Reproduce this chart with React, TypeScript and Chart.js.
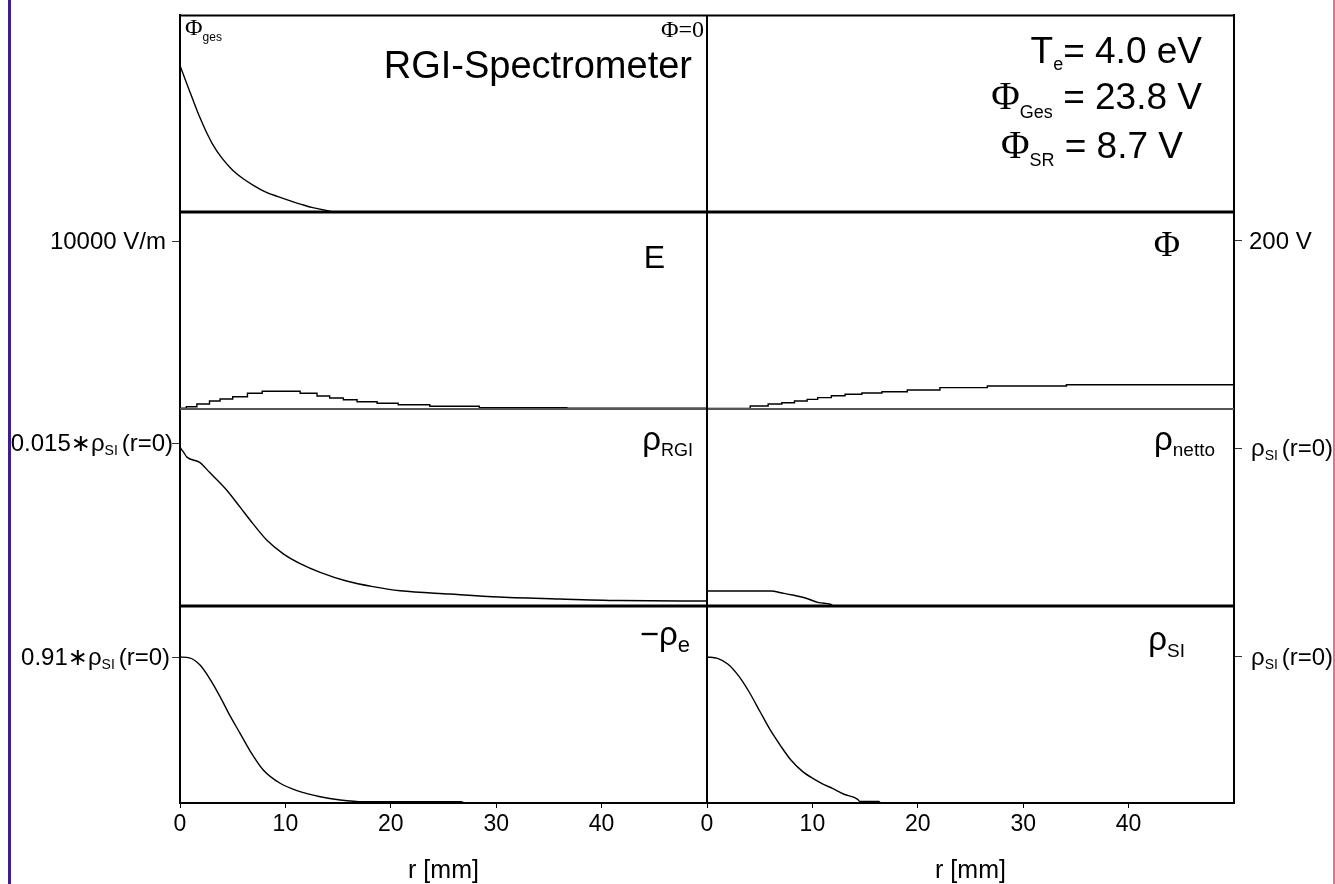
import React, { useEffect, useRef } from 'react';
import { Chart, registerables } from 'chart.js';

Chart.register(...registerables);

const SANS = '"Liberation Sans", Arial, "DejaVu Sans", sans-serif';
const SERIF = '"Liberation Serif", "Times New Roman", "DejaVu Serif", serif';

// ---------- x axis (r in mm) ----------
const xTickValues = [0, 10, 20, 30, 40];

// ---------- Row 1 left: total potential Φges (V) ----------
const rPhiGes = [0, 0.3, 0.7, 1.1, 1.9, 2.5, 3.1, 4.0, 5.0, 6.0, 7.0, 8.2, 9.3, 10.4, 11.5, 12.6, 14.2, 14.5];
const phiGes = [23.8, 22.4, 20.6, 18.8, 15.3, 13.0, 11.0, 8.7, 6.8, 5.4, 4.3, 3.2, 2.5, 1.85, 1.25, 0.7, 0.15, 0];

// ---------- Row 2 left: electric field E (V/m) ----------
const rE = [0, 0.6, 1.6, 2.8, 3.8, 5.0, 6.4, 7.8, 11.4, 13.0, 14.2, 15.5, 16.8, 18.7, 20.7, 23.7, 28.4, 36.7, 50];
const eField = [42, 137, 298, 476, 595, 732, 934, 1053, 934, 774, 655, 553, 434, 339, 256, 161, 77, 42, 42];

// ---------- Row 2 right: potential Φ (V) ----------
const rPhi = [0, 4.1, 5.8, 7.1, 8.3, 9.5, 10.5, 11.8, 13.1, 14.7, 16.6, 19.0, 22.1, 26.6, 34.1, 50];
const phi = [0.8, 3.6, 6.0, 7.5, 9.5, 11.5, 13.5, 15.8, 17.5, 19.0, 20.6, 22.6, 25.4, 27.4, 28.9, 28.9];

// ---------- Row 3 left: ρRGI / ρSI(r=0) ----------
const rRgi = [0, 0.3, 0.66, 1.9, 2.8, 4.4, 5.7, 6.9, 8.2, 9.8, 11.4, 13.3, 15.8, 18.3, 20.9, 25.6, 30.3, 36, 41.7, 50];
const rhoRgi = [0.0146, 0.0142, 0.0137, 0.0132, 0.0123, 0.0107, 0.0091, 0.0076, 0.0061, 0.0048, 0.0039, 0.0031, 0.0023, 0.00178, 0.0014, 0.0011, 0.00083, 0.00064, 0.0005, 0.00046];

// ---------- Row 3 right: ρnetto / ρSI(r=0) ----------
const rNetto = [0, 6.1, 7.0, 8.1, 9.4, 10.6, 11.7, 12.0, 50];
const rhoNetto = [0.095, 0.095, 0.084, 0.07, 0.049, 0.021, 0.011, 0, 0];

// ---------- Row 4 left: −ρe / ρSI(r=0) ----------
const rRhoE = [0, 0.9, 1.9, 2.8, 3.8, 4.7, 5.7, 6.6, 7.9, 9.5, 11.1, 13.3, 15.2, 17.4, 26.7, 27.0, 50];
const rhoE = [0.91, 0.905, 0.86, 0.777, 0.663, 0.549, 0.434, 0.33, 0.206, 0.123, 0.077, 0.039, 0.019, 0.008, 0.008, 0, 0];

// ---------- Row 4 right: ρSI / ρSI(r=0) ----------
const rRhoSi = [0, 1.0, 2.0, 3.0, 4.0, 5.0, 6.0, 7.0, 7.9, 9.0, 10.0, 11.0, 11.9, 13.0, 14.3, 14.5, 16.3, 16.5, 50];
const rhoSi = [1.0, 0.99, 0.95, 0.87, 0.76, 0.63, 0.5, 0.39, 0.3, 0.22, 0.17, 0.13, 0.1, 0.06, 0.025, 0.01, 0.01, 0, 0];

// ---------- axis ranges and single ticks ----------
const yMaxPhiGes = 32;
const yMaxE = 11730;
const yMaxPhi = 234.5;
const yMaxRgi = 0.01813;
const yMaxNetto = 1.247;
const yMaxRhoE = 1.228;
const yMaxRhoSi = 1.349;
const tickE = [10000];
const tickPhi = [200];
const tickRgi = [0.015];
const tickNetto = [1];
const tickRhoE = [0.91];
const tickRhoSi = [1];

type Seg = { t: string; f: string; dy?: number };

function drawRich(ctx: CanvasRenderingContext2D, segs: Seg[], x: number, y: number, align: 'left' | 'right') {
  let w = 0;
  for (const s of segs) {
    ctx.font = s.f;
    w += ctx.measureText(s.t).width;
  }
  let cx = align === 'right' ? x - w : x;
  ctx.textAlign = 'left';
  ctx.textBaseline = 'alphabetic';
  ctx.fillStyle = '#000';
  for (const s of segs) {
    ctx.font = s.f;
    ctx.fillText(s.t, cx, y + (s.dy || 0));
    cx += ctx.measureText(s.t).width;
  }
}

const sans = (px: number) => `${px}px ${SANS}`;
const serif = (px: number) => `${px}px ${SERIF}`;

export default function App() {
  const ref = useRef<HTMLCanvasElement>(null);

  useEffect(() => {
    document.body.style.margin = '0';
    document.body.style.overflow = 'hidden';
    const canvas = ref.current!;
    const pts = (xs: number[], ys: number[]) => xs.map((x, i) => ({ x, y: ys[i] }));
    const line = (data: any[], xAxisID: string, yAxisID: string, stepped: any = false) => ({
      type: 'line',
      data,
      xAxisID,
      yAxisID,
      borderColor: '#000',
      borderWidth: 1.4,
      pointRadius: 0,
      fill: false,
      tension: 0,
      cubicInterpolationMode: stepped ? 'default' : 'monotone',
      stepped,
    });
    const setTicks = (vals: number[]) => (scale: any) => {
      scale.ticks = vals.map((v) => ({ value: v }));
    };
    const yAxis = (position: 'left' | 'right', weight: number, max: number, tickVals: number[]) => ({
      type: 'linear',
      position,
      stack: position,
      stackWeight: 1,
      weight,
      min: 0,
      max,
      afterBuildTicks: setTicks(tickVals),
      afterFit: (s: any) => {
        s.width = position === 'left' ? 180 : 101;
        s.paddingTop = 0;
        s.paddingBottom = 0;
      },
      ticks: { display: false },
      grid: { drawOnChartArea: false, drawTicks: true, tickLength: 8, color: '#333', lineWidth: 1 },
      border: { display: true, color: '#000', width: 2 },
    });
    const xAxis = (weight: number) => ({
      type: 'linear',
      position: 'bottom',
      stack: 'rows',
      stackWeight: 1,
      weight,
      min: 0,
      max: 50,
      afterBuildTicks: setTicks(xTickValues),
      afterFit: (s: any) => {
        s.height = 81;
        s.paddingLeft = 0;
        s.paddingRight = 0;
      },
      ticks: {
        display: true,
        color: '#000',
        font: { family: SANS, size: 23 },
        padding: 3,
        autoSkip: false,
        maxRotation: 0,
        callback: (v: any) => String(v),
      },
      grid: { drawOnChartArea: false, drawTicks: true, tickLength: 5, color: '#000', lineWidth: 1 },
      border: { display: true, color: '#000', width: 2 },
      title: { display: true, text: 'r [mm]', color: '#000', font: { family: SANS, size: 25 }, padding: { top: 0, bottom: -2 } },
    });

    const decor = {
      id: 'decor',
      beforeDraw(chart: any) {
        const ctx = chart.ctx;
        ctx.save();
        ctx.fillStyle = '#fff';
        ctx.fillRect(0, 0, chart.width, chart.height);
        ctx.restore();
      },
      afterDraw(chart: any) {
        const ctx: CanvasRenderingContext2D = chart.ctx;
        const s = chart.scales;
        const ca = chart.chartArea;
        const L = s.xL;
        const R = s.xR;
        ctx.save();
        const hline = (y: number, w: number, c: string) => {
          ctx.beginPath();
          ctx.lineWidth = w;
          ctx.strokeStyle = c;
          ctx.moveTo(ca.left, y);
          ctx.lineTo(ca.right, y);
          ctx.stroke();
        };
        hline(ca.top + 0.5, 2, '#000');
        hline(s.yL1.bottom, 3, '#000');
        hline(s.yL2.bottom, 2, '#555');
        hline(s.yL3.bottom, 3, '#000');
        ctx.beginPath();
        ctx.lineWidth = 2;
        ctx.strokeStyle = '#000';
        ctx.moveTo(R.left, ca.top);
        ctx.lineTo(R.left, ca.bottom);
        ctx.stroke();

        // row 1 texts
        const t1 = s.yL1.top;
        drawRich(ctx, [{ t: 'Φ', f: serif(24) }, { t: 'ges', f: sans(12), dy: 6 }], L.left + 5, t1 + 20, 'left');
        drawRich(ctx, [{ t: 'Φ=0', f: serif(24) }], L.right - 3, t1 + 22, 'right');
        drawRich(ctx, [{ t: 'RGI-Spectrometer', f: sans(38) }], L.right - 15, t1 + 63, 'right');
        drawRich(ctx, [{ t: 'T', f: sans(37) }, { t: 'e', f: sans(18), dy: 7 }, { t: '= 4.0 eV', f: sans(37) }], R.right - 32, t1 + 48, 'right');
        drawRich(ctx, [{ t: 'Φ', f: serif(39) }, { t: 'Ges', f: sans(18), dy: 9 }, { t: ' = 23.8 V', f: sans(37) }], R.right - 32, t1 + 94, 'right');
        drawRich(ctx, [{ t: 'Φ', f: serif(39) }, { t: 'SR', f: sans(18), dy: 8 }, { t: ' = 8.7 V', f: sans(37) }], R.right - 51, t1 + 143, 'right');

        // row 2
        const t2 = s.yL2.top;
        drawRich(ctx, [{ t: 'E', f: sans(32) }], L.right - 42, t2 + 56, 'right');
        drawRich(ctx, [{ t: 'Φ', f: serif(36) }], R.right - 54, t2 + 44, 'right');
        // row 3
        const t3 = s.yL3.top;
        drawRich(ctx, [{ t: 'ρ', f: sans(33) }, { t: 'RGI', f: sans(18), dy: 6 }], L.right - 14, t3 + 41, 'right');
        drawRich(ctx, [{ t: 'ρ', f: sans(33) }, { t: 'netto', f: sans(19), dy: 6 }], R.right - 19, t3 + 41, 'right');
        // row 4
        const t4 = s.yL4.top;
        drawRich(ctx, [{ t: '−', f: sans(33) }, { t: 'ρ', f: sans(33) }, { t: 'e', f: sans(22), dy: 7 }], L.right - 17, t4 + 39, 'right');
        drawRich(ctx, [{ t: 'ρ', f: sans(33) }, { t: 'SI', f: sans(19), dy: 7 }], R.right - 49, t4 + 44, 'right');

        // axis tick labels
        const yE = s.yL2.getPixelForValue(tickE[0]);
        drawRich(ctx, [{ t: '10000 V/m', f: sans(24) }], 166, yE + 8, 'right');
        const yRgi = s.yL3.getPixelForValue(tickRgi[0]);
        drawRich(ctx, [{ t: '0.015∗ρ', f: sans(24) }, { t: 'SI ', f: sans(14), dy: 4 }, { t: '(r=0)', f: sans(24) }], 173, yRgi + 8, 'right');
        const yRe = s.yL4.getPixelForValue(tickRhoE[0]);
        drawRich(ctx, [{ t: '0.91∗ρ', f: sans(24) }, { t: 'SI ', f: sans(14), dy: 4 }, { t: '(r=0)', f: sans(24) }], 170, yRe + 8, 'right');
        const yPhi = s.yR2.getPixelForValue(tickPhi[0]);
        drawRich(ctx, [{ t: '200 V', f: sans(24) }], R.right + 15, yPhi + 8, 'left');
        const yN = s.yR3.getPixelForValue(tickNetto[0]);
        drawRich(ctx, [{ t: 'ρ', f: sans(24) }, { t: 'SI ', f: sans(14), dy: 4 }, { t: '(r=0)', f: sans(24) }], R.right + 17, yN + 8, 'left');
        const yS = s.yR4.getPixelForValue(tickRhoSi[0]);
        drawRich(ctx, [{ t: 'ρ', f: sans(24) }, { t: 'SI ', f: sans(14), dy: 4 }, { t: '(r=0)', f: sans(24) }], R.right + 17, yS + 8, 'left');

        // page edge decorations
        ctx.fillStyle = '#3c1e8c';
        ctx.fillRect(8, 0, 3, chart.height);
        ctx.fillStyle = '#ef6a8c';
        ctx.fillRect(1333, 0, 2, chart.height);
        ctx.restore();
      },
    };

    const chart = new Chart(canvas, {
      type: 'line',
      data: {
        datasets: [
          line(pts(rPhiGes, phiGes), 'xL', 'yL1'),
          line(pts(rE, eField), 'xL', 'yL2', 'before'),
          line(pts(rPhi, phi), 'xR', 'yR2', 'before'),
          line(pts(rRgi, rhoRgi), 'xL', 'yL3'),
          line(pts(rNetto, rhoNetto), 'xR', 'yR3'),
          line(pts(rRhoE, rhoE), 'xL', 'yL4'),
          line(pts(rRhoSi, rhoSi), 'xR', 'yR4'),
        ] as any,
      },
      options: {
        responsive: false,
        animation: false,
        events: [],
        layout: { padding: { top: 15, left: 0, right: 0, bottom: 0 } },
        plugins: { legend: { display: false }, tooltip: { enabled: false }, title: { display: false } },
        scales: {
          xL: xAxis(1),
          xR: xAxis(2),
          yL1: yAxis('left', 4, yMaxPhiGes, []),
          yL2: yAxis('left', 3, yMaxE, tickE),
          yL3: yAxis('left', 2, yMaxRgi, tickRgi),
          yL4: yAxis('left', 1, yMaxRhoE, tickRhoE),
          yR1: yAxis('right', 1, 1, []),
          yR2: yAxis('right', 2, yMaxPhi, tickPhi),
          yR3: yAxis('right', 3, yMaxNetto, tickNetto),
          yR4: yAxis('right', 4, yMaxRhoSi, tickRhoSi),
        } as any,
      },
      plugins: [decor],
    });
    return () => chart.destroy();
  }, []);

  return (
    <div style={{ width: 1335, height: 884, position: 'relative' }}>
      <canvas ref={ref} width={1335} height={884} style={{ display: 'block' }} />
    </div>
  );
}
